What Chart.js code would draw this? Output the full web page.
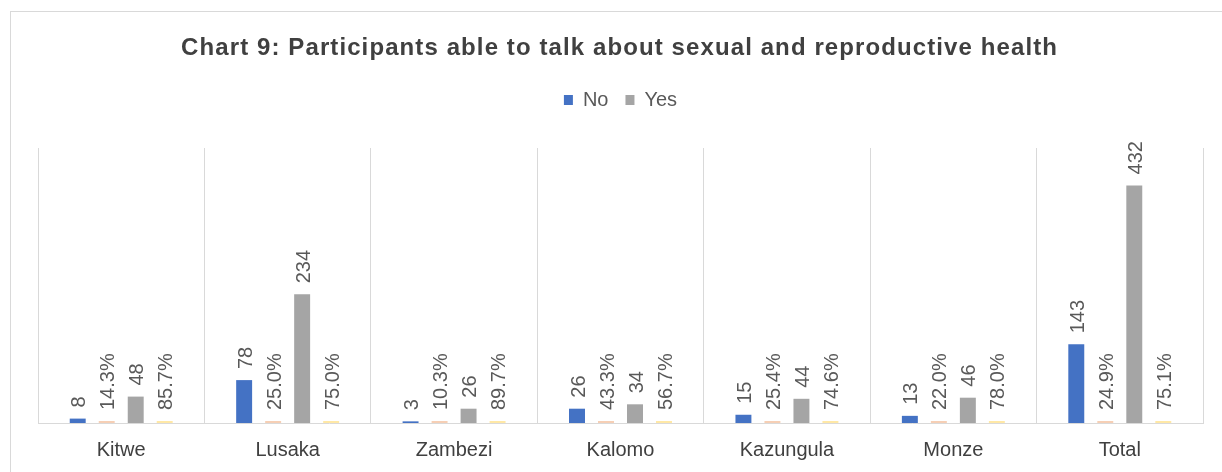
<!DOCTYPE html>
<html>
<head>
<meta charset="utf-8">
<script src="https://cdn.jsdelivr.net/npm/chart.js@4.4.1/dist/chart.umd.min.js"></script>
<style>
  html, body { margin: 0; padding: 0; background: #ffffff; }
  #box { position: absolute; left: 0; top: 0; width: 1222px; height: 472px; }
</style>
</head>
<body>
<div id="box"><canvas id="c" width="1222" height="472"></canvas></div>
<script>
const categories = ["Kitwe", "Lusaka", "Zambezi", "Kalomo", "Kazungula", "Monze", "Total"];
const noCounts = [8, 78, 3, 26, 15, 13, 143];
const noPercent = [14.3, 25.0, 10.3, 43.3, 25.4, 22.0, 24.9];
const yesCounts = [48, 234, 26, 34, 44, 46, 432];
const yesPercent = [85.7, 75.0, 89.7, 56.7, 74.6, 78.0, 75.1];
const chartTitle = "Chart 9: Participants able to talk about sexual and reproductive health";

const FONT = "'Liberation Sans', Arial, sans-serif";

const framePlugin = {
  id: 'frame',
  beforeInit(chart) {
    const lg = chart.legend;
    if (lg && !lg._patched) {
      const orig = lg.fit.bind(lg);
      lg.fit = function () { orig(); this.height += 28; };
      lg._patched = true;
    }
  },
  beforeDraw(chart) {
    const ctx = chart.ctx;
    ctx.save();
    ctx.fillStyle = '#ffffff';
    ctx.fillRect(0, 0, chart.width, chart.height);
    ctx.strokeStyle = '#d9d9d9';
    ctx.lineWidth = 1;
    ctx.strokeRect(10.5, 11.5, chart.width + 10, chart.height + 10);
    // title with slight letter spacing
    ctx.font = 'bold 24px ' + FONT;
    ctx.fillStyle = '#404040';
    ctx.textBaseline = 'middle';
    ctx.textAlign = 'left';
    const sp = 1.1;
    const chars = Array.from(chartTitle);
    let total = 0;
    const ws = chars.map(c => ctx.measureText(c).width);
    ws.forEach(w => total += w);
    total += sp * (chars.length - 1);
    let x = 619 - total / 2;
    chars.forEach((c, i) => { ctx.fillText(c, x, 48); x += ws[i] + sp; });
    ctx.restore();
  }
};

const labelPlugin = {
  id: 'barLabels',
  afterDatasetsDraw(chart) {
    const ctx = chart.ctx;
    ctx.save();
    ctx.font = '20px ' + FONT;
    ctx.fillStyle = '#595959';
    ctx.textAlign = 'left';
    ctx.textBaseline = 'middle';
    chart.data.datasets.forEach((ds, di) => {
      const meta = chart.getDatasetMeta(di);
      const base = chart.scales.y.getPixelForValue(0);
      meta.data.forEach((el, i) => {
        const txt = ds.labels[i];
        const top = Math.min(el.y, base);
        ctx.save();
        ctx.translate(el.x, top - 11);
        ctx.rotate(-Math.PI / 2);
        ctx.fillText(txt, 0, 2);
        ctx.restore();
      });
    });
    ctx.restore();
  }
};

new Chart(document.getElementById('c'), {
  type: 'bar',
  data: {
    labels: categories,
    datasets: [
      { label: 'No', data: noCounts, backgroundColor: '#4472C4', labels: noCounts.map(String) },
      { label: 'No %', data: noPercent.map(v => v / 100), backgroundColor: '#F6CFB5', minBarLength: 2, labels: noPercent.map(v => v.toFixed(1) + '%') },
      { label: 'Yes', data: yesCounts, backgroundColor: '#A5A5A5', labels: yesCounts.map(String) },
      { label: 'Yes %', data: yesPercent.map(v => v / 100), backgroundColor: '#FFE8A6', minBarLength: 2, labels: yesPercent.map(v => v.toFixed(1) + '%') }
    ]
  },
  options: {
    responsive: false,
    animation: false,
    devicePixelRatio: 1,
    datasets: { bar: { categoryPercentage: 0.697, barPercentage: 0.55 } },
    layout: { padding: { left: 38, right: 19, top: 73, bottom: 0 } },
    plugins: {
      tooltip: { enabled: false },
      title: { display: false },
      legend: {
        display: true,
        labels: {
          filter: (item) => item.datasetIndex === 0 || item.datasetIndex === 2,
          color: '#595959',
          font: { family: FONT, size: 20 },
          boxWidth: 9,
          boxHeight: 10,
          padding: 17
        }
      }
    },
    scales: {
      x: {
        afterFit(scale) { scale.height -= 5; },
        grid: { display: true, offset: true, color: '#d9d9d9', drawTicks: false },
        border: { display: true, color: '#d9d9d9' },
        ticks: { color: '#404040', font: { family: FONT, size: 20 }, padding: 15, maxRotation: 0 }
      },
      y: {
        display: false,
        min: 0,
        max: 500
      }
    }
  },
  plugins: [framePlugin, labelPlugin]
});
</script>
</body>
</html>
